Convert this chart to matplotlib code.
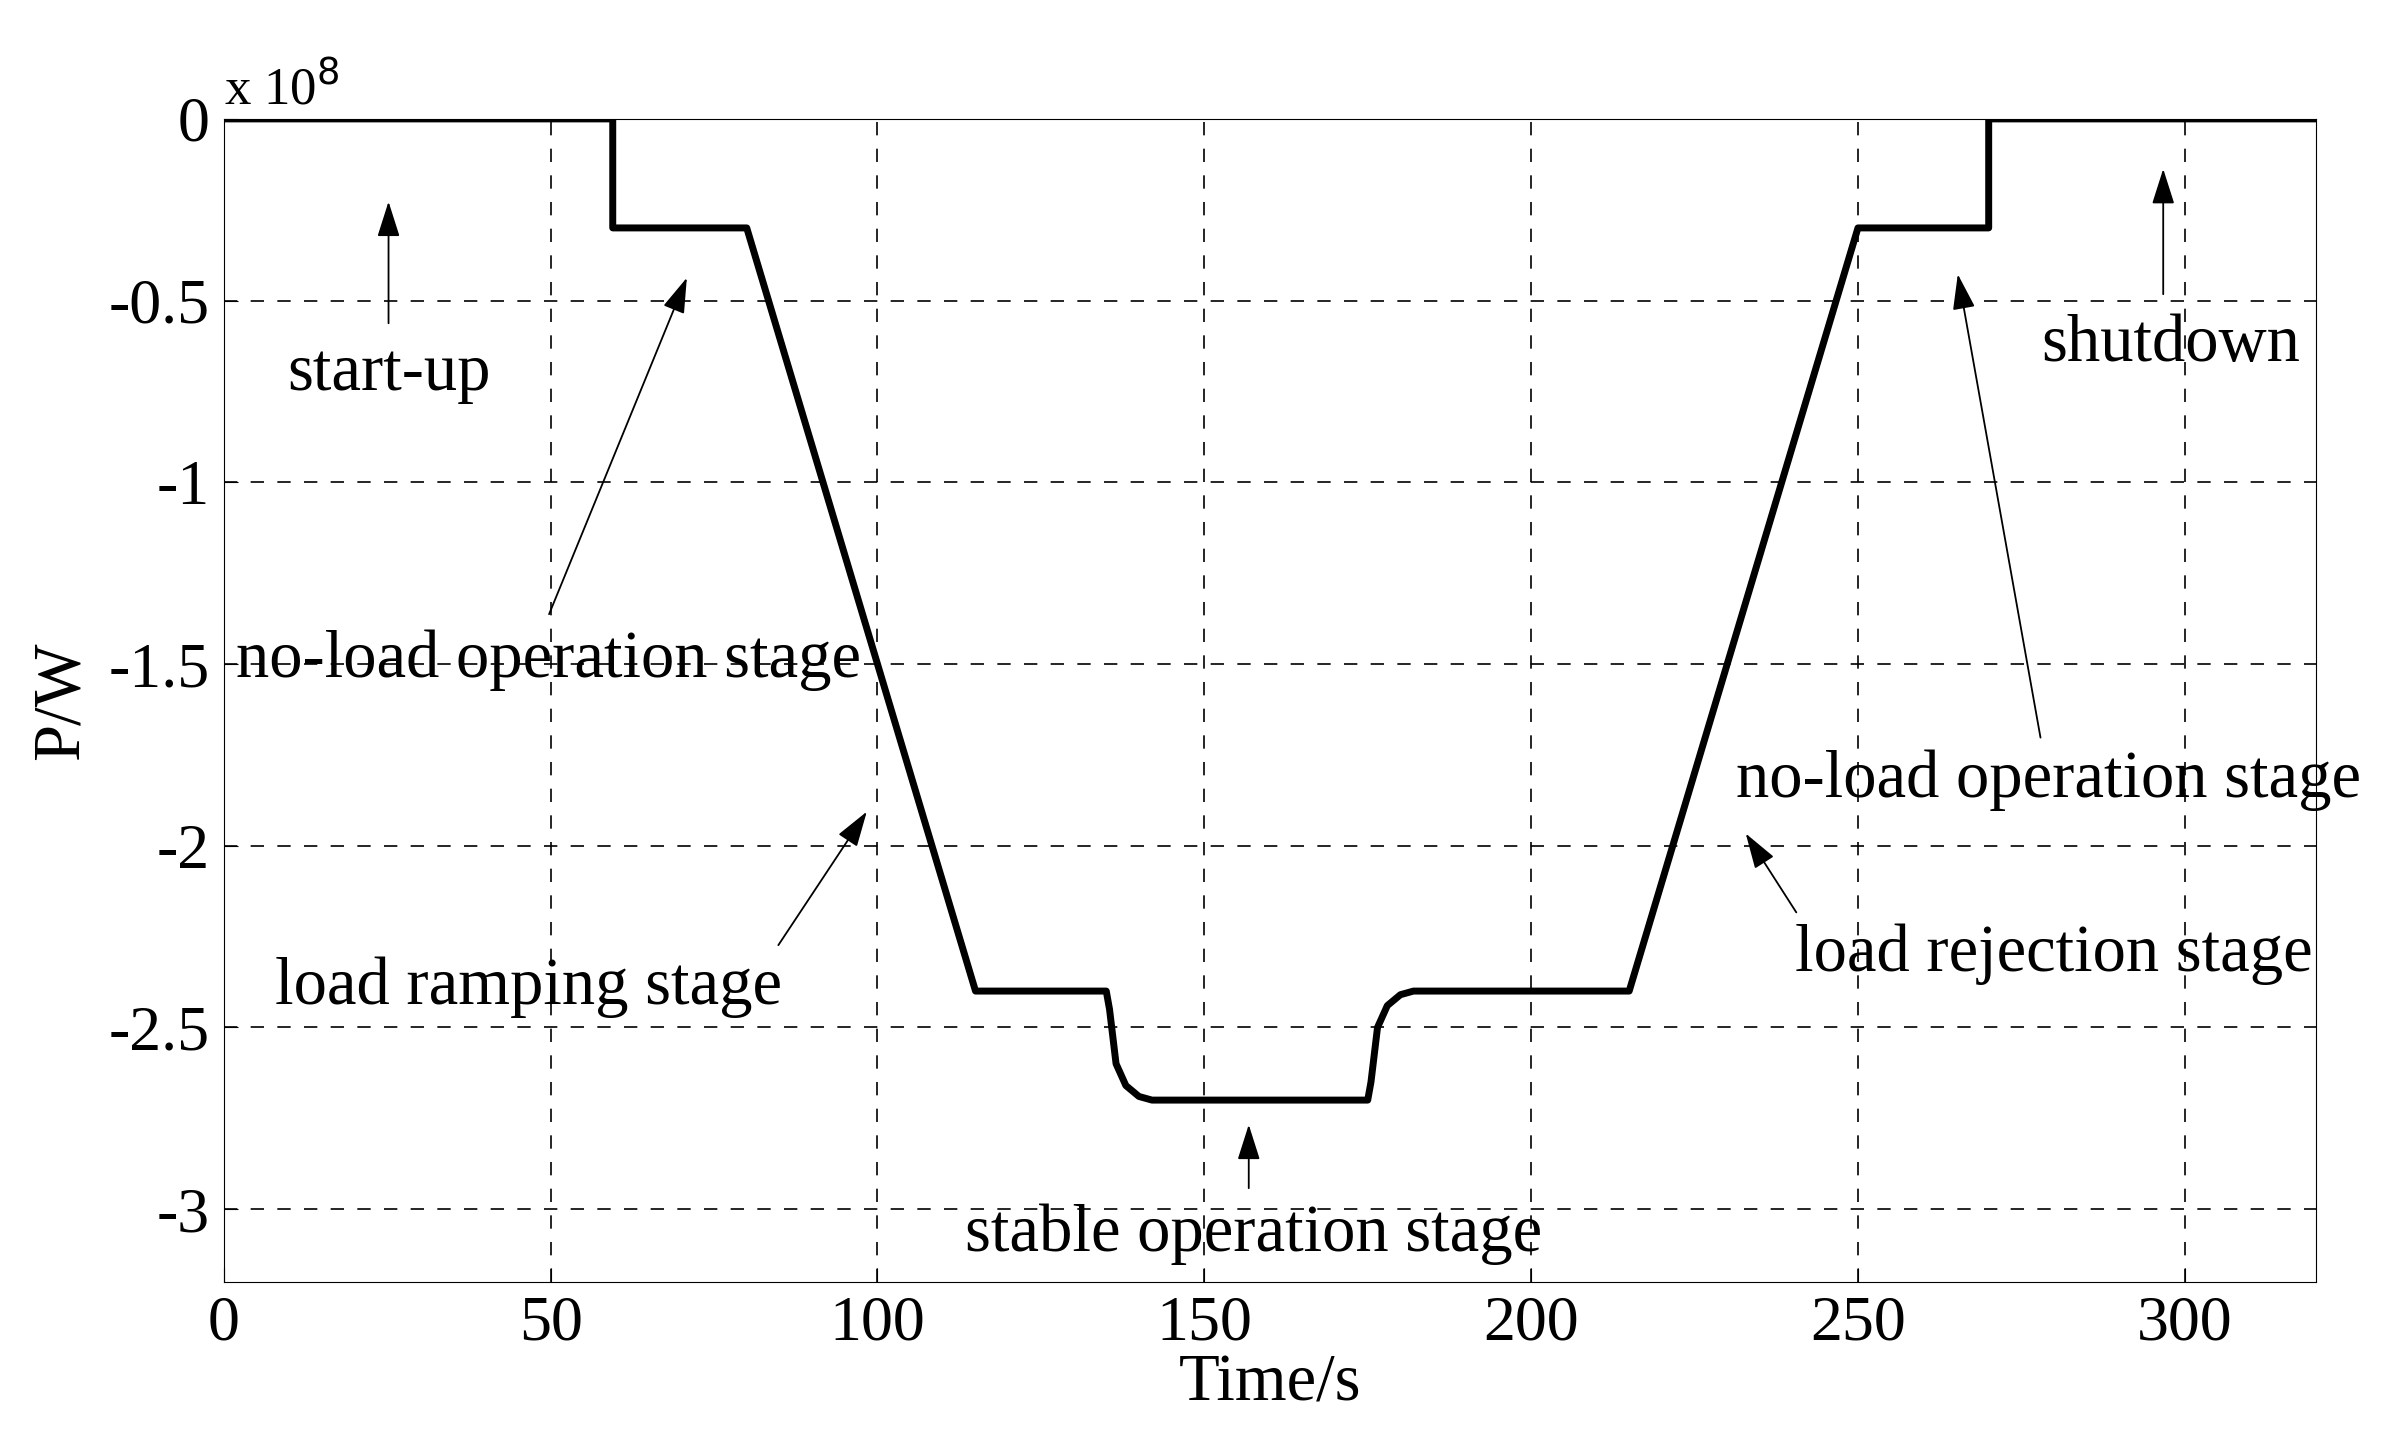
import matplotlib
matplotlib.use("Agg")
import matplotlib.pyplot as plt
import numpy as np

t = [0, 59.5, 59.5, 80, 115, 135, 135.5, 136.5, 138, 140, 142, 175, 175.5, 176.5, 178, 180, 182, 215, 250, 270, 270, 320]
p = [0, 0, -0.3, -0.3, -2.4, -2.4, -2.45, -2.6, -2.66, -2.69, -2.7, -2.7, -2.65, -2.5, -2.44, -2.41, -2.4, -2.4, -0.3, -0.3, 0, 0]

labels = ["start-up", "no-load operation stage", "load ramping stage", "stable operation stage",
          "no-load operation stage", "load rejection stage", "shutdown"]
text_xy = [(25.2, -0.70), (49.6, -1.49), (46.6, -2.39), (157.5, -3.07), (279.2, -1.82), (279.9, -2.30), (297.9, -0.62)]
tail_xy = [(25.2, -0.57), (49.6, -1.37), (84.6, -2.28), (156.8, -2.95), (278.0, -1.71), (240.8, -2.19), (296.7, -0.49)]
head_xy = [(25.2, -0.22), (71.0, -0.43), (98.6, -1.90), (156.8, -2.76), (265.2, -0.42), (232.6, -1.96), (296.7, -0.13)]

plt.rcParams['font.family'] = ['Liberation Serif', 'DejaVu Serif']
fig = plt.figure(figsize=(23.81, 14.5), dpi=100)
ax = fig.add_axes([0.094, 0.116, 0.8785, 0.802])
ax.plot(t, np.array(p) * 1e8, color='black', lw=5)
ax.set_xlim(0, 320)
ax.set_ylim(-3.2e8, 0)
ax.set_xticks([0, 50, 100, 150, 200, 250, 300])
ax.set_yticks(np.arange(-3, 0.1, 0.5) * 1e8)
ax.set_yticklabels(["-3", "-2.5", "-2", "-1.5", "-1", "-0.5", "0"])
ax.tick_params(labelsize=46, direction='in', length=10, pad=10)
ax.grid(True, color='black', ls=(0, (8, 8)), lw=1.2)
ax.set_xlabel("Time/s", fontsize=48, labelpad=0)
ax.set_ylabel("P/W", fontsize=48, labelpad=12)
ax.text(0.0, 1.003, "x 10$^{8}$", transform=ax.transAxes, fontsize=38, va='bottom')
for s, txy, a, h in zip(labels, text_xy, tail_xy, head_xy):
    ax.text(txy[0], txy[1] * 1e8, s, fontsize=48, ha='center', va='center')
    ax.annotate("", xy=(h[0], h[1] * 1e8), xytext=(a[0], a[1] * 1e8),
                arrowprops=dict(arrowstyle='-|>,head_length=2.2,head_width=0.7', color='black', lw=1.3))
fig.savefig("out.png", dpi=100)
